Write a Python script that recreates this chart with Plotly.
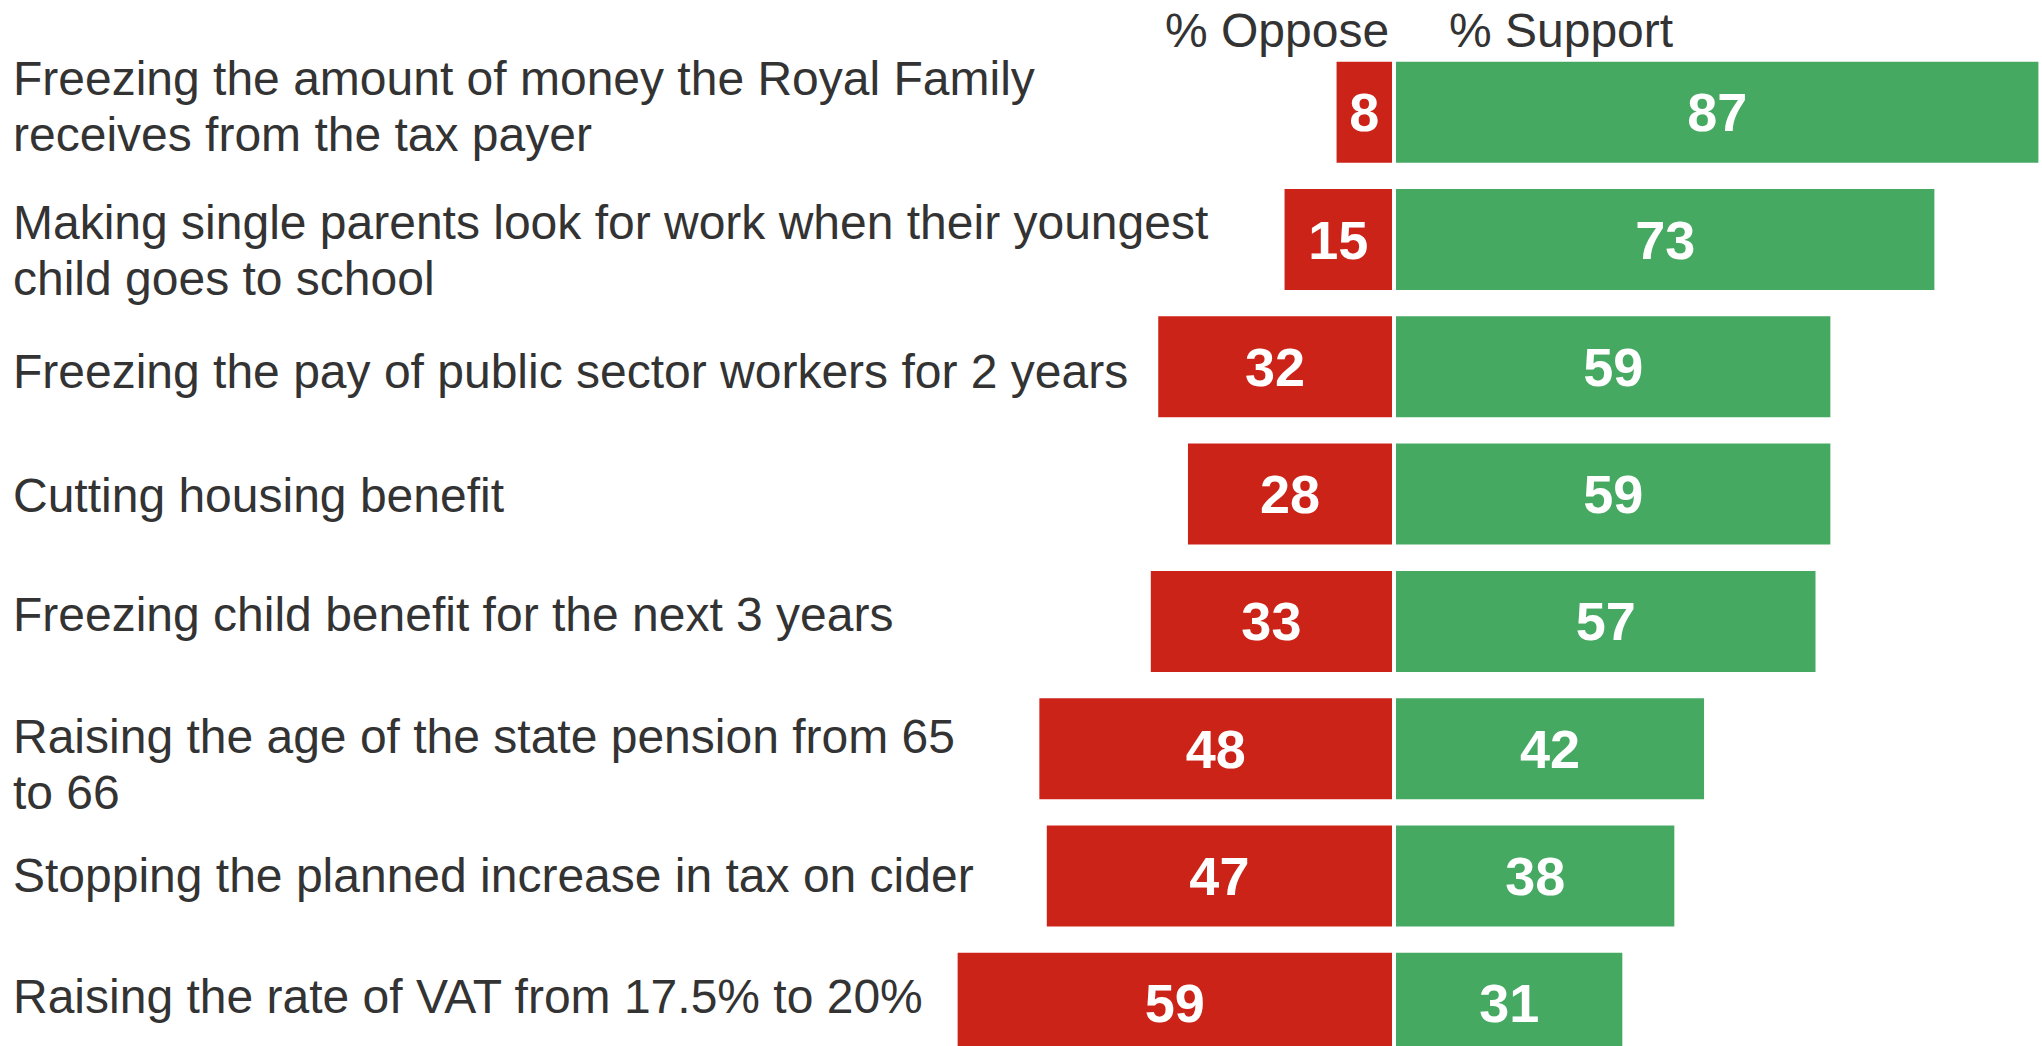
import plotly.graph_objects as go

# ---- data ----
labels = [
    "Freezing the amount of money the Royal Family<br>receives from the tax payer",
    "Making single parents look for work when their youngest<br>child goes to school",
    "Freezing the pay of public sector workers for 2 years",
    "Cutting housing benefit",
    "Freezing child benefit for the next 3 years",
    "Raising the age of the state pension from 65<br>to 66",
    "Stopping the planned increase in tax on cider",
    "Raising the rate of VAT from 17.5% to 20%",
]
oppose = [8, 15, 32, 28, 33, 48, 47, 59]
support = [87, 73, 59, 59, 57, 42, 38, 31]
header_oppose = "% Oppose"
header_support = "% Support"

# ---- style ----
RED = "#CC2318"
GREEN = "#45A962"
TEXT = "#333333"
FONT = "Liberation Sans, Arial, Helvetica, sans-serif"
W, H = 2042, 1046
LABEL_SIZE = 48
LINE_PX = 56
label_dy = [-6, 11, 5, 1, -7, 16, -1, -7]  # small vertical nudges of the row labels (px)

rows = list(range(len(labels)))

fig = go.Figure()
fig.add_trace(go.Bar(
    y=rows, x=[-v for v in oppose], orientation="h",
    marker=dict(color=RED, line=dict(color="white", width=4)),
    width=0.825,
    text=[str(v) for v in oppose], textposition="inside", insidetextanchor="middle",
    textfont=dict(family=FONT, size=54, color="white", weight="bold"),
    hoverinfo="skip", showlegend=False,
))
fig.add_trace(go.Bar(
    y=rows, x=support, orientation="h",
    marker=dict(color=GREEN, line=dict(color="white", width=4)),
    width=0.825,
    text=[str(v) for v in support], textposition="inside", insidetextanchor="middle",
    textfont=dict(family=FONT, size=54, color="white", weight="bold"),
    hoverinfo="skip", showlegend=False,
))

annotations = []
for i, lab in enumerate(labels):
    lines = lab.split("<br>")
    n = len(lines)
    for j, line in enumerate(lines):
        off = (j - (n - 1) / 2) * LINE_PX + label_dy[i]
        annotations.append(dict(
            xref="paper", yref="y", x=0, y=i, xanchor="left", yanchor="middle",
            xshift=11, yshift=-off, text=line, showarrow=False, align="left",
            font=dict(family=FONT, size=LABEL_SIZE, color=TEXT),
        ))
annotations.append(dict(
    xref="x", yref="paper", x=-0.4, y=1 - 31 / H, xanchor="right", yanchor="middle",
    text=header_oppose, showarrow=False, font=dict(family=FONT, size=LABEL_SIZE, color=TEXT),
))
annotations.append(dict(
    xref="x", yref="paper", x=7.1, y=1 - 31 / H, xanchor="left", yanchor="middle",
    text=header_support, showarrow=False, font=dict(family=FONT, size=LABEL_SIZE, color=TEXT),
))

px_per_unit = 7.43
center_px = 1394
row_px = 127.3
first_center_px = 112.2

fig.update_layout(
    width=W, height=H,
    margin=dict(l=0, r=0, t=0, b=0),
    paper_bgcolor="white", plot_bgcolor="white",
    barmode="overlay",
    xaxis=dict(range=[-center_px / px_per_unit, (W - center_px) / px_per_unit],
               visible=False, fixedrange=True),
    yaxis=dict(range=[(H - first_center_px) / row_px, -first_center_px / row_px],
               visible=False, fixedrange=True),
    annotations=annotations,
    uniformtext=dict(minsize=54, mode="show"),
)

fig.write_html("out.html", config={"displayModeBar": False},
               post_script="document.body.style.margin='0';document.body.style.overflow='hidden';")
